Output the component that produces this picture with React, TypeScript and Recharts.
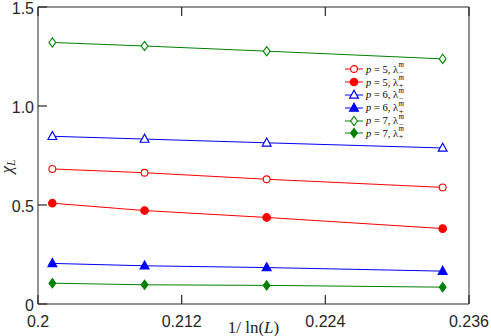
import { LineChart, Line, XAxis, YAxis } from "recharts";

// 1/ln(L) for L = 144, 120, 96, 72
const invLnL = [0.2012, 0.2089, 0.2191, 0.2338];

const p5Minus = [0.682, 0.663, 0.63, 0.589];
const p5Plus = [0.509, 0.472, 0.437, 0.381];
const p6Minus = [0.847, 0.833, 0.814, 0.788];
const p6Plus = [0.205, 0.193, 0.184, 0.166];
const p7Minus = [1.321, 1.303, 1.277, 1.238];
const p7Plus = [0.105, 0.097, 0.094, 0.085];

const xTicks = [0.2, 0.212, 0.224, 0.236];
const xTickLabels = ["0.2", "0.212", "0.224", "0.236"];
const yTicks = [0, 0.5, 1, 1.5];
const yTickLabels = ["0", "0.5", "1.0", "1.5"];

type Shape = "circle" | "triangle" | "diamond";

const series = [
  { key: "p5m", p: 5, sign: "−", values: p5Minus, color: "#ff0000", shape: "circle" as Shape, filled: false },
  { key: "p5p", p: 5, sign: "+", values: p5Plus, color: "#ff0000", shape: "circle" as Shape, filled: true },
  { key: "p6m", p: 6, sign: "−", values: p6Minus, color: "#0000ff", shape: "triangle" as Shape, filled: false },
  { key: "p6p", p: 6, sign: "+", values: p6Plus, color: "#0000ff", shape: "triangle" as Shape, filled: true },
  { key: "p7m", p: 7, sign: "−", values: p7Minus, color: "#008000", shape: "diamond" as Shape, filled: false },
  { key: "p7p", p: 7, sign: "+", values: p7Plus, color: "#008000", shape: "diamond" as Shape, filled: true },
];

const data = invLnL.map((x, i) => {
  const row: Record<string, number> = { x };
  series.forEach((s) => (row[s.key] = s.values[i]));
  return row;
});

const axisColor = "#262626";
const serif = "'Liberation Serif', 'DejaVu Serif', serif";
const sans = "'Liberation Sans', Arial, sans-serif";
const TICK = 9; // inward tick length

function Marker({ cx, cy, shape, filled, color }: { cx: number; cy: number; shape: Shape; filled: boolean; color: string }) {
  const fill = filled ? color : "#fff";
  if (shape === "circle") {
    return <circle cx={cx} cy={cy} r={filled ? 3.8 : 3.4} fill={fill} stroke={color} strokeWidth={1.1} />;
  }
  if (shape === "triangle") {
    const pts = `${cx},${cy - 4.8} ${cx - 4.4},${cy + 3.2} ${cx + 4.4},${cy + 3.2}`;
    return <polygon points={pts} fill={fill} stroke={color} strokeWidth={1.2} />;
  }
  const pts = `${cx},${cy - 4.6} ${cx + 3.4},${cy} ${cx},${cy + 4.6} ${cx - 3.4},${cy}`;
  return <polygon points={pts} fill={fill} stroke={color} strokeWidth={1.1} />;
}

// ticks: the axes use tickSize 0 / tickMargin 0, so x,y is the point on the axis line
function BottomTick({ x, y, index }: any) {
  return (
    <g>
      <line x1={x} y1={y} x2={x} y2={y - TICK} stroke={axisColor} strokeWidth={1.2} />
      <text x={x} y={y + 23} textAnchor="middle" fill={axisColor} fontSize={16} fontFamily={sans}>
        {xTickLabels[index]}
      </text>
    </g>
  );
}

function TopTick({ x, y }: any) {
  return <line x1={x} y1={y} x2={x} y2={y + TICK} stroke={axisColor} strokeWidth={1.2} />;
}

function LeftTick({ x, y, index }: any) {
  return (
    <g>
      <line x1={x} y1={y} x2={x + TICK} y2={y} stroke={axisColor} strokeWidth={1.2} />
      <text x={x - 4} y={y + 6.5} textAnchor="end" fill={axisColor} fontSize={16} fontFamily={sans}>
        {yTickLabels[index]}
      </text>
    </g>
  );
}

function RightTick({ x, y }: any) {
  return <line x1={x} y1={y} x2={x - TICK} y2={y} stroke={axisColor} strokeWidth={1.2} />;
}

function LegendBox() {
  return (
    <div style={{ position: "absolute", left: 345, top: 63, fontFamily: serif, fontSize: 10.5, color: "#000" }}>
      {series.map((s) => (
        <div key={s.key} style={{ display: "flex", alignItems: "center", height: 12.8, whiteSpace: "nowrap" }}>
          <svg width={18} height={12} style={{ marginRight: 3 }}>
            <line x1={0} y1={6} x2={18} y2={6} stroke={s.color} strokeWidth={1} />
            <Marker cx={9} cy={6} shape={s.shape} filled={s.filled} color={s.color} />
          </svg>
          <span>
            <i>p</i> = {s.p}, λ
          </span>
          <span style={{ position: "relative", display: "inline-block", width: 9, height: 12, fontSize: 7.5, marginLeft: 0.5 }}>
            <i style={{ position: "absolute", left: 0, top: -1, lineHeight: "6px" }}>m</i>
            <span style={{ position: "absolute", left: 0.5, top: 7, lineHeight: "6px" }}>{s.sign}</span>
          </span>
        </div>
      ))}
    </div>
  );
}

function YLabel(props: any) {
  const vb = props.viewBox;
  const x = vb.x + 12;
  const y = vb.y + vb.height / 2 + 11;
  return (
    <text x={x} y={y} transform={`rotate(-90, ${x}, ${y})`} textAnchor="middle" fontFamily={serif} fontSize={17} fill={axisColor}>
      <tspan fontStyle="italic">χ</tspan>
      <tspan fontStyle="italic" fontSize={12} dy={3}>L</tspan>
    </text>
  );
}

function XLabel(props: any) {
  const vb = props.viewBox;
  return (
    <text x={vb.x + vb.width / 2} y={vb.y + 29} textAnchor="middle" fontFamily={serif} fontSize={17} fill={axisColor}>
      1/ ln(<tspan fontStyle="italic">L</tspan>)
    </text>
  );
}

export default function App() {
  return (
    <div style={{ position: "absolute", left: 0, top: 0, width: 491, height: 336, background: "#fff" }}>
      <LineChart width={491} height={336} data={data} margin={{ top: 6, right: 21, bottom: 0, left: 0 }}>
        <XAxis
          xAxisId="b"
          dataKey="x"
          type="number"
          domain={[0.2, 0.236]}
          ticks={xTicks}
          height={32}
          tickSize={0}
          tickMargin={0}
          tickLine={false}
          tick={BottomTick}
          stroke={axisColor}
          interval={0}
          label={XLabel}
        />
        <XAxis
          xAxisId="t"
          orientation="top"
          dataKey="x"
          type="number"
          domain={[0.2, 0.236]}
          ticks={xTicks}
          height={1}
          tickSize={0}
          tickMargin={0}
          tickLine={false}
          tick={TopTick}
          stroke={axisColor}
          interval={0}
        />
        <YAxis
          yAxisId="l"
          type="number"
          domain={[0, 1.5]}
          ticks={yTicks}
          width={38}
          tickSize={0}
          tickMargin={0}
          tickLine={false}
          tick={LeftTick}
          stroke={axisColor}
          interval={0}
          label={YLabel}
        />
        <YAxis
          yAxisId="r"
          orientation="right"
          type="number"
          domain={[0, 1.5]}
          ticks={yTicks}
          width={1}
          tickSize={0}
          tickMargin={0}
          tickLine={false}
          tick={RightTick}
          stroke={axisColor}
          interval={0}
        />
        {series.map((s) => (
          <Line
            key={s.key}
            xAxisId="b"
            yAxisId="l"
            dataKey={s.key}
            stroke={s.color}
            strokeWidth={1}
            isAnimationActive={false}
            dot={(props: any) => (
              <Marker key={`${s.key}-${props.index}`} cx={props.cx} cy={props.cy} shape={s.shape} filled={s.filled} color={s.color} />
            )}
            activeDot={false}
          />
        ))}
      </LineChart>
      <LegendBox />
    </div>
  );
}
